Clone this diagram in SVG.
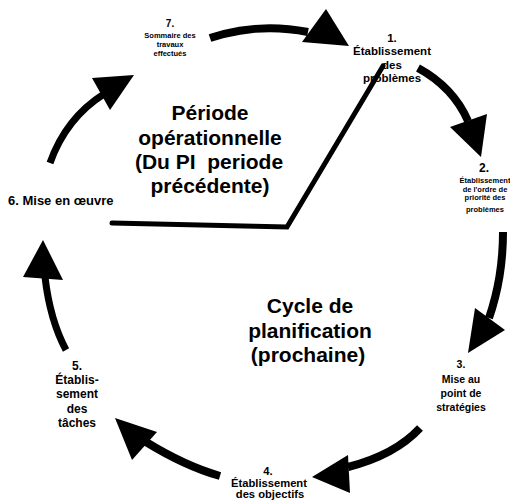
<svg xmlns="http://www.w3.org/2000/svg" width="510" height="502" viewBox="0 0 510 502">
<style>
text{font-family:"Liberation Sans",Arial,sans-serif;font-weight:bold;fill:#000;text-anchor:middle}
.big{font-size:21px;white-space:pre}
.shaft{fill:none;stroke:#000;stroke-width:8}
.head{fill:#000}
</style>
<rect width="510" height="502" fill="#fff"/>
<g id="connectors">
  <path class="shaft" d="M210,38 Q258,22 308,32"/>
  <polygon class="head" points="326,9 302,42 349,46"/>
  <path class="shaft" d="M418,68 C440,80 458,98 468,121"/>
  <polygon class="head" points="450,127 487,114 481,157"/>
  <path class="shaft" d="M503,232 C503,265 498,292 489,318"/>
  <polygon class="head" points="475,308 505,330 468,353"/>
  <path class="shaft" d="M420,428 Q395,455 348,467"/>
  <polygon class="head" points="348,455 350,493 312,477"/>
  <path class="shaft" d="M220,476 Q185,466 146,442"/>
  <polygon class="head" points="157,432 132,460 115,418"/>
  <path class="shaft" style="stroke-width:7" d="M66,350 Q50,320 45,277"/>
  <polygon class="head" points="23,277 63,280 43,240"/>
  <path class="shaft" style="stroke-width:7" d="M50,163 Q66,118 104,94"/>
  <polygon class="head" points="92,78 134,75 110,110"/>
  <polyline points="112,223 287,227 383,66" fill="none" stroke="#000" stroke-width="5" stroke-linecap="round" stroke-linejoin="miter"/>
</g>
<g id="n7">
  <text x="170" y="27" font-size="10">7.</text>
  <text x="170" y="38" font-size="7.5">Sommaire des</text>
  <text x="170" y="47" font-size="7.5">travaux</text>
  <text x="170" y="56" font-size="7.5">effectués</text>
</g>
<g id="n1">
  <text x="392" y="42" font-size="11.5">1.</text>
  <text x="392" y="55" font-size="11.5">Établissement</text>
  <text x="392" y="69" font-size="11.5">des</text>
  <text x="392" y="82" font-size="11.5">problèmes</text>
</g>
<g id="n2">
  <text x="484" y="172" font-size="12">2.</text>
  <text x="485" y="183" font-size="7.5">Établissement</text>
  <text x="485" y="192" font-size="7.5">de l'ordre de</text>
  <text x="485" y="200" font-size="7.5">priorité des</text>
  <text x="485" y="212" font-size="7.5">problèmes</text>
</g>
<g id="n3">
  <text x="461" y="368" font-size="10.5">3.</text>
  <text x="461" y="383" font-size="10.5">Mise au</text>
  <text x="461" y="397" font-size="10.5">point de</text>
  <text x="461" y="411" font-size="10.5">stratégies</text>
</g>
<g id="n4">
  <text x="268" y="475" font-size="11.2">4.</text>
  <text x="269" y="487" font-size="11.2">Établissement</text>
  <text x="270" y="498" font-size="11.2">des objectifs</text>
</g>
<g id="n5">
  <text x="77" y="370" font-size="12">5.</text>
  <text x="77" y="384" font-size="12">Établis-</text>
  <text x="77" y="398" font-size="12">sement</text>
  <text x="77" y="413" font-size="12">des</text>
  <text x="77" y="427" font-size="12">tâches</text>
</g>
<g id="n6">
  <text x="8" y="205" font-size="13" style="text-anchor:start">6. Mise en œuvre</text>
</g>
<g id="operational">
  <text class="big" x="210" y="120">Période</text>
  <text class="big" x="210" y="145">opérationnelle</text>
  <text class="big" x="209" y="169">(Du PI  periode</text>
  <text class="big" x="210" y="193">précédente)</text>
</g>
<g id="planning">
  <text class="big" x="310" y="313">Cycle de</text>
  <text class="big" x="310" y="338">planification</text>
  <text class="big" x="308" y="362">(prochaine)</text>
</g>
</svg>
